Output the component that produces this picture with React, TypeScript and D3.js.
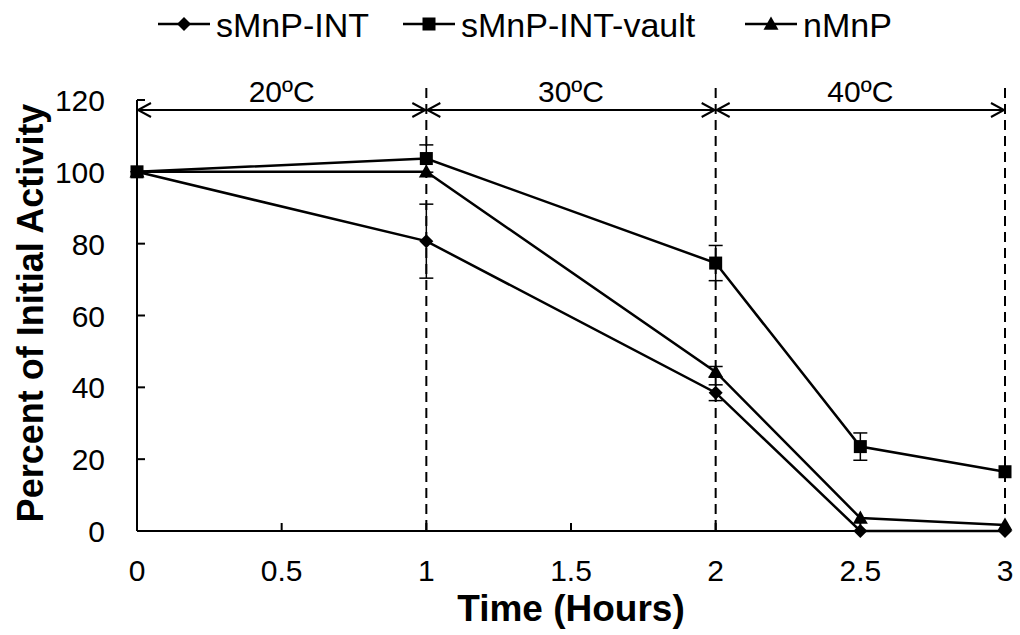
import React from "react";
import * as d3 from "d3";

const times = [0, 1, 2, 2.5, 3];
const xTicks = [0, 0.5, 1, 1.5, 2, 2.5, 3];
const xTickLabels = ["0", "0.5", "1", "1.5", "2", "2.5", "3"];
const yTicks = [0, 20, 40, 60, 80, 100, 120];

const intValues = [100, 80.7, 38.5, 0, 0];
const intErrors = [0, 10.3, 2.2, 0, 0];
const vaultValues = [100, 103.7, 74.6, 23.5, 16.5];
const vaultErrors = [0, 3.8, 4.9, 3.8, 0];
const nValues = [100, 100, 44.3, 3.6, 1.7];
const nErrors = [0, 0, 1.5, 0, 0];

const seriesNames = ["sMnP-INT", "sMnP-INT-vault", "nMnP"];
const seriesMarkers = ["diamond", "square", "triangle"];

const boundaries = [1, 2, 3];
const zones = [
  { from: 0, to: 1, label: "20ºC" },
  { from: 1, to: 2, label: "30ºC" },
  { from: 2, to: 3, label: "40ºC" },
];

const W = 1020;
const H = 635;
const FONT = "'Liberation Sans', Arial, Helvetica, sans-serif";

function Marker({ type, x, y }: { type: string; x: number; y: number }) {
  if (type === "diamond") {
    const s = 7;
    return <path d={`M${x},${y - s}L${x + s},${y}L${x},${y + s}L${x - s},${y}Z`} fill="#000" />;
  }
  if (type === "square") {
    const s = 6.5;
    return <rect x={x - s} y={y - s} width={2 * s} height={2 * s} fill="#000" />;
  }
  const s = 7.5;
  return <path d={`M${x},${y - s}L${x + s},${y + s * 0.75}L${x - s},${y + s * 0.75}Z`} fill="#000" />;
}

export default function App() {
  const x = d3.scaleLinear().domain([0, 3]).range([137, 1005]);
  const y = d3.scaleLinear().domain([0, 120]).range([531, 100]);
  const line = d3
    .line<[number, number]>()
    .x((d) => x(d[0]))
    .y((d) => y(d[1]));

  const series = [
    { values: intValues, errors: intErrors, marker: seriesMarkers[0] },
    { values: vaultValues, errors: vaultErrors, marker: seriesMarkers[1] },
    { values: nValues, errors: nErrors, marker: seriesMarkers[2] },
  ];

  const arrowY = 110;
  const ah = 13;
  const aw = 7;

  const legendX = [158, 403, 745];

  return (
    <svg width={W} height={H} style={{ position: "absolute", left: 0, top: 0, background: "#fff" }} fontFamily={FONT}>
      <rect width={W} height={H} fill="#fff" />
      {/* Legend */}
      {seriesNames.map((name, i) => (
        <g key={name}>
          <line x1={legendX[i]} x2={legendX[i] + 52} y1={24} y2={24} stroke="#000" strokeWidth={2.5} />
          <Marker type={seriesMarkers[i]} x={legendX[i] + 26} y={24} />
          <text x={legendX[i] + 58} y={37} fontSize={34} fill="#000">
            {name}
          </text>
        </g>
      ))}

      {/* Dashed boundaries */}
      {boundaries.map((b) => (
        <line key={b} x1={x(b)} x2={x(b)} y1={88} y2={y(0)} stroke="#000" strokeWidth={2} strokeDasharray="10,6" />
      ))}

      {/* Axes */}
      <line x1={x(0)} x2={x(0)} y1={y(120)} y2={y(0)} stroke="#000" strokeWidth={2} />
      <line x1={x(0)} x2={x(3)} y1={y(0)} y2={y(0)} stroke="#000" strokeWidth={2} />
      {yTicks.map((t) => (
        <g key={t}>
          <line x1={x(0)} x2={x(0) + 8} y1={y(t)} y2={y(t)} stroke="#000" strokeWidth={2} />
          <text x={x(0) - 32} y={y(t) + 11} textAnchor="end" fontSize={30} fill="#000">
            {t}
          </text>
        </g>
      ))}
      {xTicks.map((t, i) => (
        <g key={t}>
          <line x1={x(t)} x2={x(t)} y1={y(0)} y2={y(0) - 8} stroke="#000" strokeWidth={2} />
          <text x={x(t)} y={y(0) + 50} textAnchor="middle" fontSize={30} fill="#000">
            {xTickLabels[i]}
          </text>
        </g>
      ))}
      <text x={571} y={621} textAnchor="middle" fontSize={37} fontWeight="bold" fill="#000">
        Time (Hours)
      </text>
      <text
        transform={`translate(43,313) rotate(-90)`}
        textAnchor="middle"
        fontSize={36}
        fontWeight="bold"
        fill="#000"
      >
        Percent of Initial Activity
      </text>

      {/* Temperature zones */}
      {zones.map((z) => {
        const x1 = x(z.from) + 1;
        const x2 = x(z.to) - 1;
        return (
          <g key={z.label}>
            <line x1={x1} x2={x2} y1={arrowY} y2={arrowY} stroke="#000" strokeWidth={2} />
            <path
              d={`M${x1 + ah},${arrowY - aw}L${x1},${arrowY}L${x1 + ah},${arrowY + aw}`}
              fill="none"
              stroke="#000"
              strokeWidth={2}
            />
            <path
              d={`M${x2 - ah},${arrowY - aw}L${x2},${arrowY}L${x2 - ah},${arrowY + aw}`}
              fill="none"
              stroke="#000"
              strokeWidth={2}
            />
            <text x={(x(z.from) + x(z.to)) / 2} y={arrowY - 8} textAnchor="middle" fontSize={30} fill="#000">
              {z.label}
            </text>
          </g>
        );
      })}

      {/* Series */}
      {series.map((s, si) => (
        <g key={si}>
          <path
            d={line(times.map((t, i) => [t, s.values[i]] as [number, number])) || ""}
            fill="none"
            stroke="#000"
            strokeWidth={2.5}
          />
          {times.map((t, i) =>
            s.errors[i] > 0 ? (
              <g key={"e" + i}>
                <line x1={x(t)} x2={x(t)} y1={y(s.values[i] + s.errors[i])} y2={y(s.values[i] - s.errors[i])} stroke="#000" strokeWidth={1.5} />
                <line x1={x(t) - 7} x2={x(t) + 7} y1={y(s.values[i] + s.errors[i])} y2={y(s.values[i] + s.errors[i])} stroke="#000" strokeWidth={1.5} />
                <line x1={x(t) - 7} x2={x(t) + 7} y1={y(s.values[i] - s.errors[i])} y2={y(s.values[i] - s.errors[i])} stroke="#000" strokeWidth={1.5} />
              </g>
            ) : null
          )}
          {times.map((t, i) => (
            <Marker key={"m" + i} type={s.marker} x={x(t)} y={y(s.values[i])} />
          ))}
        </g>
      ))}
    </svg>
  );
}
